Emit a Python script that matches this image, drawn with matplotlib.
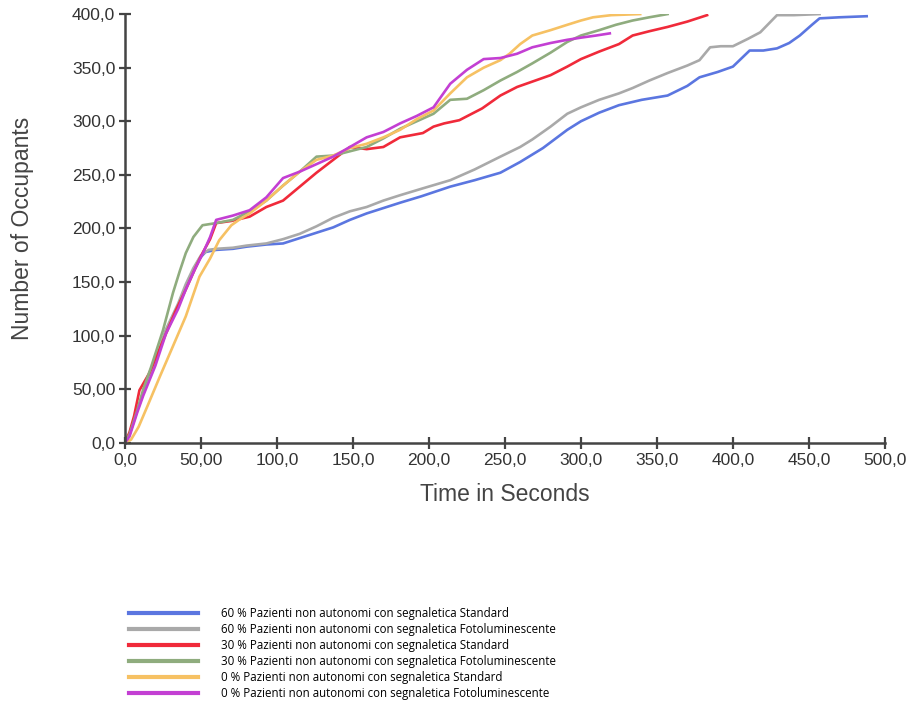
import matplotlib
matplotlib.use("Agg")
import matplotlib.pyplot as plt
from matplotlib.ticker import FuncFormatter

# ---- data ----
t_blue = [0, 3, 8, 12, 20, 27, 35, 40, 45, 49, 53, 60, 71, 80, 93, 104, 115, 126, 137, 148,
          159, 170, 181, 195, 214, 230, 247, 260, 275, 291, 300, 312, 325, 340, 357, 370, 378,
          390, 400, 411, 420, 429, 437, 444, 452, 457, 470, 488]
y_blue = [0, 8, 30, 46, 75, 105, 128, 146, 160, 172, 178, 180, 181, 183, 185, 186, 191, 196, 201, 208,
          214, 219, 224, 230, 239, 245, 252, 262, 275, 292, 300, 308, 315, 320, 324, 333, 341,
          346, 351, 366, 366, 368, 373, 380, 390, 396, 397, 398]

t_gray = [0, 3, 8, 12, 20, 27, 35, 40, 45, 50, 55, 60, 71, 80, 93, 104, 115, 126, 137, 148, 159,
          170, 181, 195, 214, 230, 247, 260, 268, 280, 291, 300, 312, 325, 334, 345, 357, 370,
          378, 385, 392, 400, 410, 418, 429, 440, 457]
y_gray = [0, 8, 30, 46, 76, 106, 130, 148, 163, 175, 180, 181, 182, 184, 186, 190, 195, 202, 210, 216, 220,
          226, 231, 237, 245, 255, 267, 276, 283, 295, 307, 313, 320, 326, 331, 338, 345, 352,
          357, 369, 370, 370, 377, 383, 399, 399, 400]

t_red = [0, 3, 6, 9.5, 16, 22, 27, 33, 40, 46, 51, 56, 60, 70, 82, 93, 104, 115, 126, 137, 148,
         159, 170, 181, 196, 203, 210, 220, 235, 247, 258, 268, 280, 291, 300, 312, 325, 334,
         345, 357, 370, 383]
y_red = [0, 10, 25, 49, 65, 85, 102, 122, 143, 162, 177, 190, 205, 207, 211, 220, 226, 239, 252, 264, 276,
         274, 276, 285, 289, 295, 298, 301, 312, 324, 332, 337, 343, 351, 358, 365, 372, 380,
         384, 388, 393, 399]

t_green = [0, 3, 8, 12, 17, 25, 31.6, 36, 40, 45, 51, 60, 71, 82, 93, 104, 115, 126, 137, 148,
           159, 170, 181, 192, 203, 214, 225, 236, 247, 258, 268, 280, 291, 300, 312, 323, 334,
           345, 357]
y_green = [0, 8, 30, 50, 70, 105, 140, 160, 177, 192, 203, 205, 208, 216, 226, 240, 253, 267, 268, 272,
           276, 284, 293, 300, 307, 320, 321, 329, 338, 346, 354, 364, 374, 380, 385, 390, 394,
           397, 400]

t_yellow = [0, 4, 9, 15, 23, 30, 40, 49, 56, 62, 70, 75, 82, 93, 104, 115, 126, 137, 148, 159,
            170, 181, 192, 203, 214, 225, 236, 247, 253, 260, 268, 280, 291, 300, 308, 320, 339]
y_yellow = [0, 3, 15, 35, 62, 85, 118, 155, 172, 189, 203, 208, 214, 226, 240, 253, 264, 268, 275, 279,
            285, 292, 302, 310, 326, 341, 350, 357, 363, 372, 380, 385, 390, 394, 397, 399, 400]

t_mag = [0, 3, 8, 12, 20, 27, 35, 40, 46, 51, 56, 60, 71, 82, 93, 104, 115, 126, 137, 148, 159,
         170, 181, 192, 203, 214, 225, 236, 247, 258, 268, 280, 291, 300, 310, 319]
y_mag = [0, 6, 28, 44, 72, 102, 125, 143, 162, 176, 192, 208, 212, 217, 229, 247, 253, 260, 267, 276, 285,
         290, 298, 305, 313, 335, 348, 358, 359, 363, 369, 373, 376, 378, 380, 382]

labels = [
    "60 % Pazienti non autonomi con segnaletica Standard",
    "60 % Pazienti non autonomi con segnaletica Fotoluminescente",
    "30 % Pazienti non autonomi con segnaletica Standard",
    "30 % Pazienti non autonomi con segnaletica Fotoluminescente",
    "0 % Pazienti non autonomi con segnaletica Standard",
    "0 % Pazienti non autonomi con segnaletica Fotoluminescente",
]
colors = ["#5b76e0", "#a9a9a9", "#f02a3a", "#8fac7e", "#f6c163", "#c33fd3"]
series = [(t_blue, y_blue), (t_gray, y_gray), (t_red, y_red),
          (t_green, y_green), (t_yellow, y_yellow), (t_mag, y_mag)]


def comma_fmt(v, pos):
    # 50 is written as "50,00" in the original, others with one decimal
    if v == 50:
        return "50,00"
    return f"{v:.1f}".replace(".", ",")


fig = plt.figure(figsize=(9.09, 7.04), dpi=100)
ax = fig.add_axes([0.1375, 0.371, 0.836, 0.609])

for (t, y), c in zip(series, colors):
    ax.plot(t, y, color=c, lw=1.9)

ax.set_xlim(0, 500)
ax.set_ylim(0, 400)
ax.set_xticks(range(0, 501, 50))
ax.set_yticks(range(0, 401, 50))
ax.xaxis.set_major_formatter(FuncFormatter(comma_fmt))
ax.yaxis.set_major_formatter(FuncFormatter(comma_fmt))

for s in ["top", "right"]:
    ax.spines[s].set_visible(False)
for s in ["left", "bottom"]:
    ax.spines[s].set_color("#444444")
    ax.spines[s].set_linewidth(1.8)
ax.tick_params(direction="inout", length=8, width=1.6, color="#444444",
               labelsize=12.5, labelcolor="#333333", pad=3)
for lab in ax.get_xticklabels() + ax.get_yticklabels():
    lab.set_family("Liberation Sans")

ax.set_xlabel("Time in Seconds", fontsize=16.5, color="#444444", family="Liberation Sans", labelpad=11)
ax.set_ylabel("Number of Occupants", fontsize=16.5, color="#444444", family="Liberation Sans", labelpad=27)

# legend below the plot
handles = [plt.Line2D([], [], color=c, lw=3) for c in colors]
fig.legend(handles, labels, loc="upper left", bbox_to_anchor=(0.13, 0.152),
           frameon=False, handlelength=6.0, handletextpad=2.0,
           labelspacing=0.26, prop={"family": "Open Sans", "size": 8.3})

fig.savefig("out.png", dpi=100)
